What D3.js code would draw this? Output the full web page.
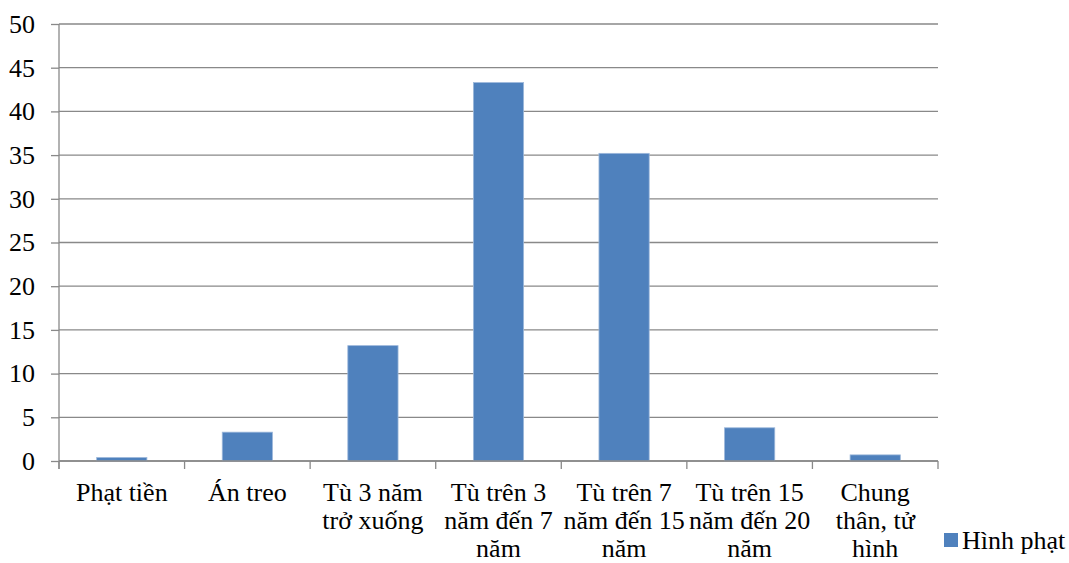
<!DOCTYPE html>
<html>
<head>
<meta charset="utf-8">
<script src="https://cdn.jsdelivr.net/npm/d3@7"></script>
<style>
  html, body { margin: 0; padding: 0; background: #fff; }
</style>
</head>
<body>
<svg id="chart" width="1069" height="563" font-family="Liberation Serif, Times New Roman, serif"></svg>
<script>
// Category labels, already broken into lines
const categories = [
  ["Phạt tiền"],
  ["Án treo"],
  ["Tù 3 năm", "trở xuống"],
  ["Tù trên 3", "năm đến 7", "năm"],
  ["Tù trên 7", "năm đến 15", "năm"],
  ["Tù trên 15", "năm đến 20", "năm"],
  ["Chung", "thân, tử", "hình"]
];
const values = [0.4, 3.3, 13.2, 43.3, 35.2, 3.8, 0.7];
const yTicks = [0, 5, 10, 15, 20, 25, 30, 35, 40, 45, 50];
const seriesName = "Hình phạt";

const FONT = "'Liberation Serif', 'Times New Roman', serif";
const svg = d3.select("#chart");
const plotLeft = 59, plotRight = 938, plotTop = 24, plotBottom = 461;
const barColor = "#4F81BD";
const gridColor = "#898989";

const x = d3.scaleBand()
  .domain(d3.range(categories.length))
  .range([plotLeft, plotRight])
  .paddingInner(0.6)
  .paddingOuter(0.3);

const y = d3.scaleLinear().domain([0, 50]).range([plotBottom, plotTop]);

// Horizontal gridlines
svg.append("g")
  .selectAll("line")
  .data(yTicks)
  .join("line")
  .attr("x1", plotLeft).attr("x2", plotRight)
  .attr("y1", d => y(d)).attr("y2", d => y(d))
  .attr("stroke", gridColor)
  .attr("stroke-width", 1.3);

// Bars
svg.append("g")
  .selectAll("rect")
  .data(values)
  .join("rect")
  .attr("x", (d, i) => x(i))
  .attr("width", x.bandwidth())
  .attr("y", d => y(d))
  .attr("height", d => y(0) - y(d))
  .attr("fill", barColor)
  .attr("stroke", "#9db8db")
  .attr("stroke-width", 0.8);

// Y axis
const yAxis = d3.axisLeft(y).tickValues(yTicks).tickSize(8).tickPadding(16).tickFormat(d3.format("d"));
const gy = svg.append("g").attr("transform", `translate(${plotLeft},0)`).call(yAxis)
  .attr("font-family", FONT).attr("font-size", 26);
gy.select(".domain").remove();
gy.selectAll(".tick line").attr("stroke", gridColor).attr("stroke-width", 1.3);
gy.selectAll(".tick text").style("font-family", FONT).style("font-size", "26px").attr("fill", "#000");
gy.append("line")
  .attr("x1", 0).attr("x2", 0)
  .attr("y1", plotTop).attr("y2", plotBottom + 8)
  .attr("stroke", gridColor).attr("stroke-width", 1.3);

// X axis: baseline plus category boundary ticks
const step = x.step();
const bounds = d3.range(categories.length + 1).map(i => plotLeft + i * step);
svg.append("line")
  .attr("x1", plotLeft).attr("x2", plotRight)
  .attr("y1", plotBottom).attr("y2", plotBottom)
  .attr("stroke", gridColor).attr("stroke-width", 1.3);
svg.append("g")
  .selectAll("line")
  .data(bounds)
  .join("line")
  .attr("x1", d => d).attr("x2", d => d)
  .attr("y1", plotBottom).attr("y2", plotBottom + 8)
  .attr("stroke", gridColor).attr("stroke-width", 1.3);

// Category labels
const labels = svg.append("g")
  .selectAll("text")
  .data(categories)
  .join("text")
  .attr("text-anchor", "middle")
  .style("font-family", FONT)
  .style("font-size", "26px")
  .attr("fill", "#000");
labels.each(function (lines, i) {
  const cx = x(i) + x.bandwidth() / 2;
  d3.select(this).selectAll("tspan")
    .data(lines)
    .join("tspan")
    .attr("x", cx)
    .attr("y", (d, k) => 501 + k * 28)
    .text(d => d);
});

// Legend
const legend = svg.append("g");
legend.append("rect")
  .attr("x", 944).attr("y", 533)
  .attr("width", 14).attr("height", 14)
  .attr("fill", barColor);
legend.append("text")
  .attr("x", 962).attr("y", 549)
  .style("font-family", FONT)
  .style("font-size", "26px")
  .attr("fill", "#000")
  .text(seriesName);
</script>
</body>
</html>
